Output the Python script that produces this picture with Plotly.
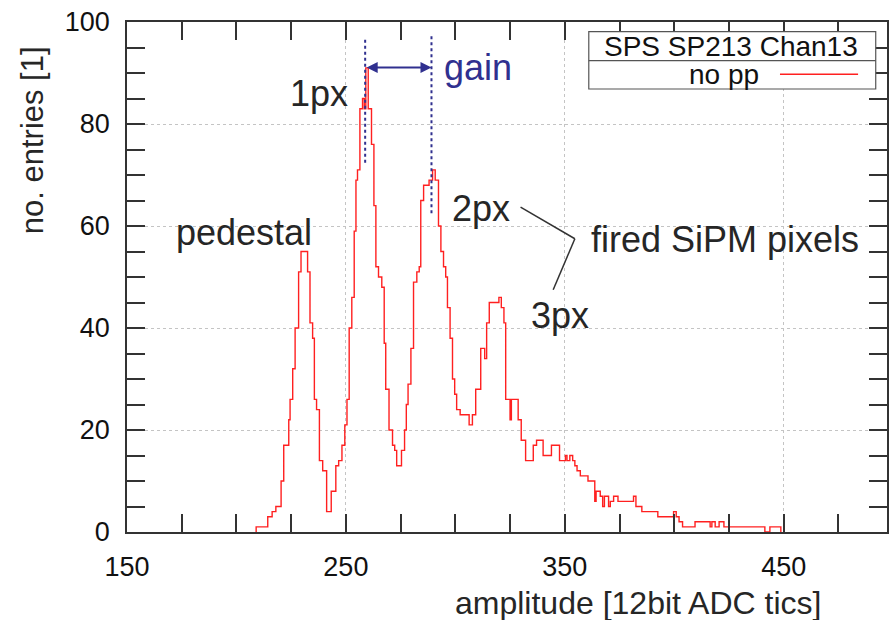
import plotly.graph_objects as go

# ---- data ----
bin_left = [209.0, 214.3, 216.3, 218.0, 220.4, 221.6, 223.9, 224.5, 225.7, 226.8,
            228.4, 229.5, 232.5, 233.6, 234.8, 235.6, 236.6, 237.9, 239.4, 241.2,
            243.3, 245.4, 246.7, 248.2, 249.5, 250.5, 251.5, 252.7, 253.8, 254.6,
            255.3, 256.4, 257.6, 258.4, 259.1, 260.2, 261.7, 262.8, 263.7, 264.9,
            266.4, 267.5, 268.2, 269.7, 271.3, 272.3, 273.2, 275.4, 276.8, 277.6,
            278.4, 279.7, 280.9, 282.4, 283.5, 284.2, 285.5, 288.0, 289.6, 290.8,
            292.3, 293.4, 294.6, 295.6, 296.4, 297.6, 298.7, 299.7, 300.6, 302.2,
            306.3, 307.8, 309.3, 311.6, 313.4, 314.3, 315.5, 319.9, 321.0, 322.2,
            323.0, 325.0, 325.6, 328.7, 330.1, 332.1, 335.6, 337.1, 340.1, 343.9,
            347.6, 350.3, 351.0, 352.3, 353.6, 354.6, 355.6, 357.1, 360.6, 363.7,
            364.3, 366.2, 367.3, 368.1, 370.0, 370.8, 372.3, 374.3, 381.4, 382.5,
            385.2, 392.5, 399.7, 400.9, 402.2, 403.8, 409.5, 416.4, 417.2, 418.7,
            420.5, 422.7, 441.4, 443.7, 448.7]
counts = [1, 3, 4, 5, 10, 17, 22, 26, 32, 40,
          51, 55, 51, 41, 38, 26, 24, 14, 12, 4,
          8, 13, 14, 17, 21, 26, 40, 46, 59, 69,
          71, 83, 85, 83, 91, 83, 76, 64, 52, 50,
          48, 37, 28, 20, 17, 16, 13, 16, 20, 25,
          29, 36, 49, 51, 52, 65, 68, 69, 71, 69,
          60, 55, 52, 50, 44, 38, 30, 27, 24, 23,
          21, 23, 28, 36, 34, 41, 45, 46, 44, 41,
          26, 22, 26, 22, 18, 14, 17, 18, 15, 17,
          14, 15, 14, 15, 14, 13, 12, 11, 10, 6,
          8, 7, 5, 7, 5, 6, 7, 6, 7, 5,
          4, 3, 4, 3, 2, 1, 2, 1, 2, 1,
          2, 1, 0, 1, 0]

x_range = [150, 497.2]
y_range = [0, 100]
x_ticks = [150, 250, 350, 450]
y_ticks = [0, 20, 40, 60, 80, 100]

legend_title = "SPS SP213 Chan13"
series_name = "no pp"
x_title = "amplitude [12bit ADC tics]"
y_title = "no. entries [1]"

# annotation positions (data units)
peak1_pos = 258.8
peak2_pos = 289.1
gain_y = 91.1

FONT = "Liberation Sans, Arial, sans-serif"
TXT = "#262626"
NAVY = "#30308f"
AX = "#333333"

W, H = 889, 620
L, R, T, B = 127, 0, 22, 88

fig = go.Figure()
fig.add_trace(go.Scatter(
    x=[bin_left[0]] + bin_left,
    y=[0] + counts,
    mode="lines",
    line=dict(shape="hv", color="#ff2020", width=1.4),
    name=series_name,
    showlegend=False,
    hoverinfo="skip",
))

axis_common = dict(
    showline=True, linecolor=AX, linewidth=1.5,
    mirror="allticks", ticks="inside", ticklen=18, tickwidth=1.5, tickcolor=AX,
    showgrid=True, gridcolor="#c4c4c4", griddash="dot", gridwidth=1,
    zeroline=False,
    tickfont=dict(family=FONT, size=27, color="#111111"),
)

fig.update_xaxes(
    range=x_range, tickmode="array", tickvals=x_ticks, ticktext=[str(v) for v in x_ticks],
    minor=dict(dtick=25, tick0=150, ticks="inside", ticklen=18, tickwidth=1.5,
               tickcolor=AX, showgrid=False),
    ticklabelstandoff=10,
    **axis_common,
)
fig.update_yaxes(
    range=y_range, tickmode="array", tickvals=y_ticks, ticktext=[str(v) for v in y_ticks],
    minor=dict(dtick=5, tick0=0, ticks="inside", ticklen=18, tickwidth=1.5,
               tickcolor=AX, showgrid=False),
    ticklabelstandoff=10,
    **axis_common,
)

def px(X):
    return (X - L) / (W - L - R)

def py(Y):
    return (H - B - Y) / (H - T - B)

shapes = []
# gain markers: dotted vertical lines
shapes.append(dict(type="line", xref="x", yref="y", x0=peak1_pos, x1=peak1_pos, y0=72.4, y1=96.9,
                   line=dict(color=NAVY, width=2, dash="dot")))
shapes.append(dict(type="line", xref="x", yref="y", x0=peak2_pos, x1=peak2_pos, y0=62.5, y1=97.3,
                   line=dict(color=NAVY, width=2, dash="dot")))
# connector lines to "fired SiPM pixels"
shapes.append(dict(type="line", xref="x", yref="y", x0=329.8, y0=63.7, x1=354.6, y1=57.5,
                   line=dict(color="#333333", width=1.5)))
shapes.append(dict(type="line", xref="x", yref="y", x0=344.7, y0=47.5, x1=354.6, y1=57.5,
                   line=dict(color="#333333", width=1.5)))
# legend box
shapes.append(dict(type="rect", xref="paper", yref="paper",
                   x0=px(590), x1=px(877.7), y0=py(89), y1=py(31.7),
                   line=dict(color="#555555", width=1.2), fillcolor="white", layer="above"))
shapes.append(dict(type="line", xref="paper", yref="paper",
                   x0=px(590), x1=px(877.7), y0=py(60.7), y1=py(60.7),
                   line=dict(color="#555555", width=1.2), layer="above"))
shapes.append(dict(type="line", xref="paper", yref="paper",
                   x0=px(781.7), x1=px(860), y0=py(74.3), y1=py(74.3),
                   line=dict(color="#ff2020", width=1.4), layer="above"))

annotations = []
def txt(x, y, s, size=36, color=TXT, xanchor="center"):
    annotations.append(dict(x=x, y=y, xref="x", yref="y", text=s, showarrow=False,
                            xanchor=xanchor, yanchor="middle",
                            font=dict(family=FONT, size=size, color=color)))

txt(203.5, 58.8, "pedestal")
txt(237.5, 86.0, "1px")
txt(311.7, 63.5, "2px")
txt(347.7, 42.4, "3px")
txt(423.3, 57.3, "fired SiPM pixels")
txt(310.4, 91.0, "gain", color=NAVY)

# gain arrow (double headed)
annotations.append(dict(x=peak2_pos, y=gain_y, ax=peak1_pos, ay=gain_y,
                        xref="x", yref="y", axref="x", ayref="y",
                        text="", showarrow=True, arrowhead=2, arrowside="end+start",
                        arrowsize=1.1, arrowwidth=2, arrowcolor=NAVY,
                        standoff=0, startstandoff=0))

# legend texts
annotations.append(dict(x=px(733), y=py(46), xref="paper", yref="paper", text=legend_title,
                        showarrow=False, xanchor="center", yanchor="middle",
                        font=dict(family=FONT, size=28, color="#111111")))
annotations.append(dict(x=px(763), y=py(75), xref="paper", yref="paper", text=series_name,
                        showarrow=False, xanchor="right", yanchor="middle",
                        font=dict(family=FONT, size=28, color="#111111")))

# axis titles
annotations.append(dict(x=px(639.5), y=py(603), xref="paper", yref="paper", text=x_title,
                        showarrow=False, xanchor="center", yanchor="middle",
                        font=dict(family=FONT, size=32, color=TXT)))
annotations.append(dict(x=px(33), y=py(140), xref="paper", yref="paper", text=y_title,
                        showarrow=False, xanchor="center", yanchor="middle", textangle=-90,
                        font=dict(family=FONT, size=31, color=TXT)))

fig.update_layout(
    width=W, height=H,
    margin=dict(l=L, r=R, t=T, b=B, pad=0),
    paper_bgcolor="white", plot_bgcolor="white",
    shapes=shapes, annotations=annotations,
    showlegend=False,
)

fig.write_html("out.html", config={"displayModeBar": False},
               post_script="document.body.style.margin='0';")
